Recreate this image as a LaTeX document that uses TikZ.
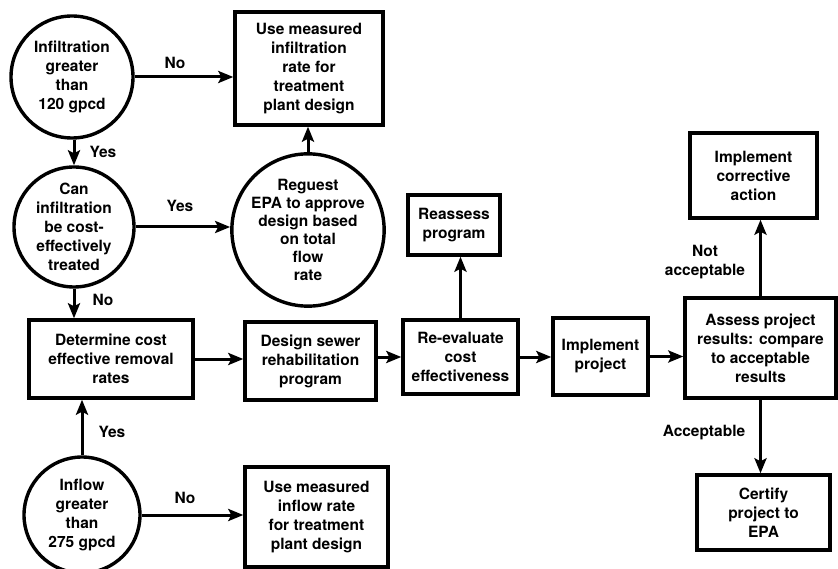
\documentclass[tikz,border=0pt]{standalone}
\usepackage{fontspec}
\setmainfont{TeX Gyre Heros}
\usetikzlibrary{arrows.meta}
\begin{document}
\begin{tikzpicture}[x=1pt,y=-1pt,
  every node/.style={font=\fontsize{15.5}{19}\selectfont\bfseries, align=center},
  box/.style={draw, line width=3.4pt, rectangle, inner sep=2pt},
  disc/.style={draw, line width=3.4pt, circle, inner sep=0pt},
  arr/.style={line width=3pt, -{Stealth[length=15pt,width=12pt,inset=3pt]}},
  lbl/.style={inner sep=1pt}]
\useasboundingbox (0,0) rectangle (838,569);
% circles
\node[disc, minimum size=122pt] (c1) at (72,77) {Infiltration\\greater\\than\\120 gpcd};
\node[disc, minimum size=120pt] (c2) at (74,227) {Can\\infiltration\\be cost-\\effectively\\treated};
\node[disc, minimum size=148pt, font=\fontsize{15.5}{18}\selectfont\bfseries] (c3) at (308,230) {Reguest\\EPA to approve\\design based\\on total\\flow\\rate};
\node[disc, minimum size=116pt] (f) at (82,515) {Inflow\\greater\\than\\275 gpcd};
% boxes
\node[box, minimum width=148pt, minimum height=113pt] (b1) at (309,68.5) {Use measured\\infiltration\\rate for\\treatment\\plant design};
\node[box, minimum width=164pt, minimum height=78pt] (d) at (111,359) {Determine cost\\effective removal\\rates};
\node[box, minimum width=131pt, minimum height=78pt] (g) at (310.5,361) {Design sewer\\rehabilitation\\program};
\node[box, minimum width=115pt, minimum height=74pt] (r) at (460.5,357) {Re-evaluate\\cost\\effectiveness};
\node[box, minimum width=92pt, minimum height=60pt] (s) at (454,225) {Reassess\\program};
\node[box, minimum width=95pt, minimum height=77pt] (i) at (600.5,356.5) {Implement\\project};
\node[box, minimum width=151pt, minimum height=100pt] (a) at (760.5,348) {Assess project\\results: compare\\to acceptable\\results};
\node[box, minimum width=127pt, minimum height=85pt] (k) at (753.5,175.5) {Implement\\corrective\\action};
\node[box, minimum width=133pt, minimum height=75pt] (c) at (763.5,512.5) {Certify\\project to\\EPA};
\node[box, minimum width=143pt, minimum height=100pt] (u) at (316.5,517) {Use measured\\inflow rate\\for treatment\\plant design};
% connectors
\draw[arr] (c1.east) -- (c1.east -| b1.west);
\draw[arr] (c2.north |- c1.south) -- (c2.north);
\draw[arr] (c2.east) -- (c2.east -| c3.west);
\draw[arr] (c3.north) -- (c3.north |- b1.south);
\draw[arr] (c2.south) -- (c2.south |- d.north);
\draw[arr] (f.north) -- (f.north |- d.south);
\draw[arr] (f.east) -- (f.east -| u.west);
\draw[arr] (d.east) -- (d.east -| g.west);
\draw[arr] (g.east |- r.west) -- (r.west);
\draw[arr] (r.north) -- (r.north |- s.south);
\draw[arr] (r.east) -- (r.east -| i.west);
\draw[arr] (i.east) -- (i.east -| a.west);
\draw[arr] (a.north) -- (a.north |- k.south);
\draw[arr] (a.south) -- (a.south |- c.north);
% labels
\node[lbl] (l1) at (175,63) {No};
\node[lbl] (l2) at (103,152) {Yes};
\node[lbl] (l3) at (180,206) {Yes};
\node[lbl] (l4) at (103,300) {No};
\node[lbl] (l5) at (112,432) {Yes};
\node[lbl] (l6) at (185,498) {No};
\node[lbl] (l7) at (705,262) {Not\\acceptable};
\node[lbl] (l8) at (704,433) {Acceptable};
\end{tikzpicture}
\end{document}
